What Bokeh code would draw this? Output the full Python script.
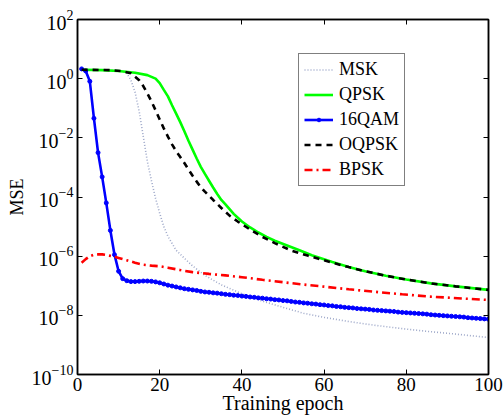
from bokeh.plotting import figure
from bokeh.models import (FixedTicker, LogAxis, LinearAxis, Legend, LegendItem, Range1d,
                          CustomJSTickFormatter)
from bokeh.embed import file_html
from bokeh.resources import INLINE

# ---- data: log10(MSE) read per training epoch ----
msk_epoch = [1, 8, 11, 12, 13, 14, 15, 16, 17, 18, 19, 20, 21, 22, 24, 26, 28, 31, 35, 40,
             45, 50, 55, 60, 66, 72, 79, 85, 91, 100]
msk_log_mse = [0.30, 0.29, 0.25, 0.18, -0.05, -0.45, -1.10, -1.95, -2.80, -3.45, -4.05, -4.55,
               -5.00, -5.33, -5.80, -6.07, -6.33, -6.65, -6.97, -7.27, -7.52, -7.73, -7.93,
               -8.07, -8.21, -8.33, -8.45, -8.54, -8.62, -8.75]

qpsk_epoch = [1, 6, 10, 14, 17, 19, 20, 21, 22, 23, 24, 25, 26, 27, 28, 29, 30, 31, 32, 33,
              34, 35, 36, 38, 40, 42, 44, 46, 48, 51, 54, 57, 62, 66, 70, 75, 80, 86, 92, 100]
qpsk_log_mse = [0.30, 0.29, 0.26, 0.20, 0.12, 0.00, -0.15, -0.38, -0.60, -0.90, -1.18, -1.47,
                -1.78, -2.10, -2.40, -2.70, -2.98, -3.22, -3.45, -3.68, -3.90, -4.10, -4.25,
                -4.57, -4.83, -5.03, -5.20, -5.35, -5.48, -5.64, -5.80, -5.97, -6.20, -6.37,
                -6.51, -6.66, -6.79, -6.92, -7.02, -7.14]

qam16_epoch = list(range(1, 101))
qam16_log_mse = [0.33, 0.26, -0.09, -1.34, -2.50, -3.32, -4.20, -5.13, -5.95, -6.51,
                 -6.76, -6.83, -6.86, -6.86, -6.85, -6.84, -6.84, -6.85, -6.87, -6.90,
                 -6.94, -6.98, -7.01, -7.04, -7.07, -7.10, -7.12, -7.14, -7.16, -7.19,
                 -7.21, -7.22, -7.24, -7.25, -7.27, -7.29, -7.30, -7.32, -7.33, -7.35,
                 -7.36, -7.38, -7.39, -7.41, -7.42, -7.44, -7.45, -7.47, -7.48, -7.50,
                 -7.51, -7.53, -7.55, -7.56, -7.58, -7.59, -7.61, -7.62, -7.64, -7.65,
                 -7.67, -7.68, -7.70, -7.71, -7.73, -7.74, -7.75, -7.77, -7.78, -7.79,
                 -7.80, -7.82, -7.83, -7.84, -7.85, -7.86, -7.87, -7.89, -7.90, -7.91,
                 -7.92, -7.93, -7.94, -7.95, -7.96, -7.98, -7.99, -8.00, -8.01, -8.02,
                 -8.03, -8.04, -8.05, -8.06, -8.08, -8.09, -8.10, -8.11, -8.12, -8.13]

oqpsk_epoch = [1, 8, 11, 13, 14, 15, 16, 17, 18, 19, 20, 21, 22, 23, 24, 25, 26, 27, 28, 29,
               30, 31, 33, 35, 37, 39, 42, 45, 48, 52, 56, 60, 62, 66, 70, 75, 80, 86, 92, 100]
oqpsk_log_mse = [0.30, 0.29, 0.25, 0.18, 0.07, -0.05, -0.25, -0.50, -0.77, -1.07, -1.38, -1.68,
                 -1.96, -2.22, -2.45, -2.65, -2.85, -3.07, -3.28, -3.48, -3.67, -3.82, -4.10,
                 -4.37, -4.63, -4.83, -5.10, -5.35, -5.56, -5.81, -5.98, -6.14, -6.22, -6.37,
                 -6.51, -6.66, -6.79, -6.92, -7.02, -7.14]

bpsk_epoch = [1, 2, 3, 4, 5, 6, 7, 8, 9, 10, 12, 14, 16, 18, 20, 22, 25, 28, 32, 36, 40, 45,
              50, 55, 60, 66, 72, 79, 85, 91, 100]
bpsk_log_mse = [-6.22, -6.10, -6.00, -5.95, -5.94, -5.94, -5.96, -5.99, -6.02, -6.06, -6.14,
                -6.22, -6.29, -6.32, -6.34, -6.39, -6.47, -6.54, -6.60, -6.65, -6.71, -6.80,
                -6.88, -6.96, -7.03, -7.12, -7.20, -7.29, -7.36, -7.41, -7.48]

x_ticks = [0, 20, 40, 60, 80, 100]
y_ticks = [1e-10, 1e-8, 1e-6, 1e-4, 1e-2, 1e0, 1e2]


def mse(log_values):
    return [10.0 ** v for v in log_values]


FONT = "Liberation Serif"

p = figure(frame_width=411, frame_height=355, x_range=Range1d(0, 100),
           y_range=Range1d(1e-10, 1e2), y_axis_type="log", output_backend="svg",
           toolbar_location=None,
           min_border_left=77, min_border_right=16, min_border_top=19, min_border_bottom=42)
p.background_fill_color = "white"
p.border_fill_color = "white"
p.grid.visible = False
p.outline_line_color = "black"
p.outline_line_width = 1.5

# bottom / left axes with labels
for ax in (p.xaxis[0], p.yaxis[0]):
    ax.major_tick_in = 5
    ax.major_tick_out = 0
    ax.minor_tick_in = 0
    ax.minor_tick_out = 0
    ax.axis_line_width = 1.5
    ax.major_tick_line_width = 1
    ax.major_label_text_font = FONT
    ax.major_label_text_color = "black"
    ax.axis_label_text_font = FONT
    ax.axis_label_text_font_style = "normal"
    ax.axis_label_text_color = "black"

p.xaxis[0].major_label_text_font_size = "19px"
p.yaxis[0].major_label_text_font_size = "20px"
p.xaxis[0].axis_label_text_font_size = "20px"
p.yaxis[0].axis_label_text_font_size = "18px"
p.xaxis[0].ticker = FixedTicker(ticks=x_ticks, minor_ticks=[])
p.yaxis[0].ticker = FixedTicker(ticks=y_ticks, minor_ticks=[])
p.xaxis[0].axis_label = "Training epoch"
p.yaxis[0].axis_label = "MSE"
p.xaxis[0].major_label_standoff = 3
p.xaxis[0].axis_label_standoff = -2
p.yaxis[0].major_label_standoff = 4
p.yaxis[0].axis_label_standoff = 2

# tick-only axes closing the box on top and right
blank = CustomJSTickFormatter(code="return ''")
top = LinearAxis(ticker=FixedTicker(ticks=x_ticks, minor_ticks=[]), formatter=blank)
right = LogAxis(ticker=FixedTicker(ticks=y_ticks, minor_ticks=[]), formatter=blank)
for ax in (top, right):
    ax.major_tick_in = 5
    ax.major_tick_out = 0
    ax.minor_tick_in = 0
    ax.minor_tick_out = 0
    ax.axis_line_width = 1.5
    ax.major_label_standoff = 0
    ax.major_label_text_color = None
p.add_layout(top, "above")
p.add_layout(right, "right")

r_msk = p.line(msk_epoch, mse(msk_log_mse), line_color="#9ea8c9", line_width=1.6,
               line_dash="1 2")
r_qpsk = p.line(qpsk_epoch, mse(qpsk_log_mse), line_color="#00ff00", line_width=2.6)
r_qam_line = p.line(qam16_epoch, mse(qam16_log_mse), line_color="#0000ff", line_width=2.6)
r_qam_dot = p.scatter(qam16_epoch, mse(qam16_log_mse), marker="circle", size=4,
                      fill_color="#0000ff", line_color="#0000ff")
r_oqpsk = p.line(oqpsk_epoch, mse(oqpsk_log_mse), line_color="black", line_width=2.6,
                 line_dash="6 5")
r_bpsk = p.line(bpsk_epoch, mse(bpsk_log_mse), line_color="#ff0000", line_width=2.6,
                line_dash="8 4 2 4")

legend = Legend(items=[
    LegendItem(label="MSK", renderers=[r_msk]),
    LegendItem(label="QPSK", renderers=[r_qpsk]),
    LegendItem(label="16QAM", renderers=[r_qam_line, r_qam_dot]),
    LegendItem(label="OQPSK", renderers=[r_oqpsk]),
    LegendItem(label="BPSK", renderers=[r_bpsk]),
], location=(221, 188))
legend.margin = 0
legend.padding = 5
legend.spacing = 4
legend.glyph_width = 29
legend.glyph_height = 9
legend.label_height = 21
legend.label_standoff = 6
legend.label_text_font = FONT
legend.label_text_font_size = "18px"
legend.label_text_color = "black"
legend.border_line_color = "black"
legend.border_line_width = 1.5
legend.background_fill_color = "white"
legend.background_fill_alpha = 1
p.add_layout(legend)

open("out.html", "w").write(file_html(p, INLINE))
